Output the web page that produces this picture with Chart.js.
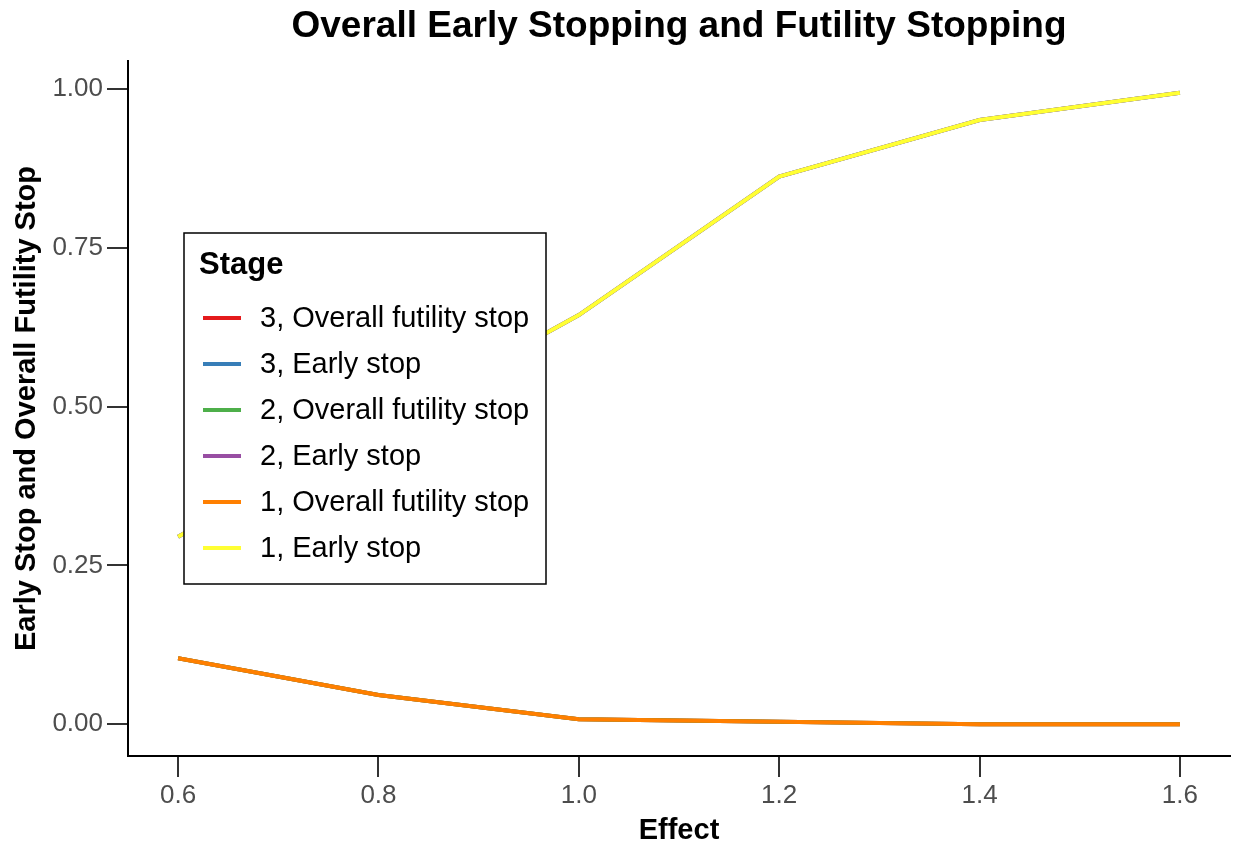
<!DOCTYPE html>
<html>
<head>
<meta charset="utf-8">
<script src="https://cdn.jsdelivr.net/npm/chart.js@4.4.1/dist/chart.umd.min.js"></script>
<style>
  html, body { margin: 0; padding: 0; background: #fff; }
  #wrap { width: 1236px; height: 848px; position: relative; }
</style>
</head>
<body>
<div id="wrap"><canvas id="chart" width="1236" height="848"></canvas></div>
<script>
// effect sizes on the x axis
const effects = [0.6, 0.8, 1.0, 1.2, 1.4, 1.6];

// probabilities (stages overlap, so they share values)
const earlyStop3 = [0.295, 0.47, 0.644, 0.862, 0.951, 0.994];
const futility3 = [0.104, 0.046, 0.008, 0.004, 0.0, 0.0];
const earlyStop2 = [0.295, 0.47, 0.644, 0.862, 0.951, 0.994];
const futility2 = [0.104, 0.046, 0.008, 0.004, 0.0, 0.0];
const earlyStop1 = [0.295, 0.47, 0.644, 0.862, 0.951, 0.994];
const futility1 = [0.104, 0.046, 0.008, 0.004, 0.0, 0.0];

const seriesLabels = [
  "3, Overall futility stop",
  "3, Early stop",
  "2, Overall futility stop",
  "2, Early stop",
  "1, Overall futility stop",
  "1, Early stop",
];
const seriesValues = [futility3, earlyStop3, futility2, earlyStop2, futility1, earlyStop1];
const seriesColors = ["#E41A1C", "#377EB8", "#4DAF4A", "#984EA3", "#FF7F00", "#FFFF33"];

const xTicks = [0.6, 0.8, 1.0, 1.2, 1.4, 1.6];
const yTicks = [0, 0.25, 0.5, 0.75, 1.0];

const chartTitle = "Overall Early Stopping and Futility Stopping";
const FONT = "'Liberation Sans', Arial, Helvetica, sans-serif";

//builds the datasets, last legend entry is drawn on top
const datasets = seriesLabels.map((label, i) => ({
  label: label,
  data: effects.map((x, j) => ({ x: x, y: seriesValues[i][j] })),
  borderColor: seriesColors[i],
  backgroundColor: seriesColors[i],
  borderWidth: 4,
  pointRadius: 0,
  tension: 0,
  fill: false,
  order: seriesLabels.length - i,
}));

/**
 * draws the title centred over the plot panel (ggplot style)
 */
const panelTitle = {
  id: "panelTitle",
  afterDraw(chart) {
    const ctx = chart.ctx;
    const area = chart.chartArea;
    ctx.save();
    ctx.fillStyle = "#000000";
    ctx.font = "bold 37px " + FONT;
    ctx.textAlign = "center";
    ctx.textBaseline = "alphabetic";
    ctx.fillText(chartTitle, (area.left + area.right) / 2, 37);
    ctx.restore();
  },
};

/**
 * draws the legend box inside the plot area
 */
const stageLegend = {
  id: "stageLegend",
  afterDatasetsDraw(chart) {
    const ctx = chart.ctx;
    const left = 184, top = 233, w = 362, h = 351;
    ctx.save();
    ctx.fillStyle = "#ffffff";
    ctx.fillRect(left, top, w, h);
    ctx.strokeStyle = "#000000";
    ctx.lineWidth = 1.5;
    ctx.strokeRect(left, top, w, h);

    ctx.fillStyle = "#000000";
    ctx.font = "bold 31px " + FONT;
    ctx.textBaseline = "alphabetic";
    ctx.textAlign = "left";
    ctx.fillText("Stage", left + 15, top + 41);

    ctx.font = "29px " + FONT;
    ctx.textBaseline = "middle";
    seriesLabels.forEach((label, i) => {
      const y = top + 85 + i * 46;
      ctx.strokeStyle = seriesColors[i];
      ctx.lineWidth = 4;
      ctx.beginPath();
      ctx.moveTo(left + 19, y);
      ctx.lineTo(left + 57, y);
      ctx.stroke();
      ctx.fillStyle = "#000000";
      ctx.fillText(label, left + 76, y + 1);
    });
    ctx.restore();
  },
};

const ctx = document.getElementById("chart").getContext("2d");
new Chart(ctx, {
  type: "line",
  data: { datasets: datasets },
  plugins: [stageLegend, panelTitle],
  options: {
    responsive: false,
    animation: false,
    maintainAspectRatio: false,
    devicePixelRatio: 1,
    layout: { padding: { left: 0, right: 6, top: 61, bottom: 0 } },
    plugins: {
      legend: { display: false },
      tooltip: { enabled: false },
      title: { display: false },
    },
    scales: {
      x: {
        type: "linear",
        min: 0.55,
        max: 1.65,
        afterBuildTicks: (scale) => {
          scale.ticks = xTicks.map((v) => ({ value: v }));
        },
        afterFit: (scale) => {
          scale.height = 92;
        },
        border: { display: true, color: "#000000", width: 2 },
        grid: { drawOnChartArea: false, drawTicks: true, tickLength: 21, color: "#333333", lineWidth: 2 },
        ticks: {
          color: "#4d4d4d",
          font: { family: FONT, size: 26 },
          padding: 3,
          maxRotation: 0,
          callback: (v) => v.toFixed(1),
        },
        title: {
          display: true,
          text: "Effect",
          color: "#000000",
          font: { family: FONT, size: 29, weight: "bold" },
          padding: { top: 0, bottom: 0 },
        },
      },
      y: {
        type: "linear",
        min: -0.05,
        max: 1.044,
        afterBuildTicks: (scale) => {
          scale.ticks = yTicks.map((v) => ({ value: v }));
        },
        afterFit: (scale) => {
          scale.width = 128;
        },
        border: { display: true, color: "#000000", width: 2 },
        grid: { drawOnChartArea: false, drawTicks: true, tickLength: 21, color: "#333333", lineWidth: 2 },
        ticks: {
          color: "#4d4d4d",
          font: { family: FONT, size: 26 },
          padding: 4,
          callback: (v) => v.toFixed(2),
        },
        title: {
          display: true,
          text: "Early Stop and Overall Futility Stop",
          color: "#000000",
          font: { family: FONT, size: 29, weight: "bold" },
          padding: { top: 10, bottom: 0 },
        },
      },
    },
  },
});
</script>
</body>
</html>
